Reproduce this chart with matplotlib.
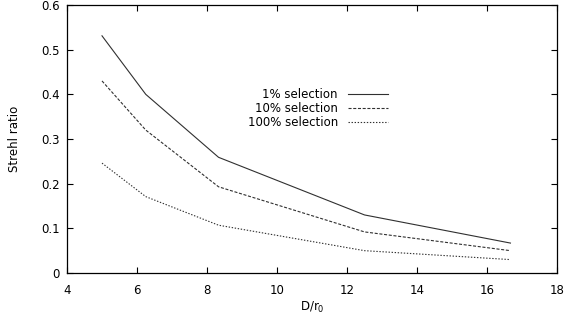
# plot.py - Strehl ratio vs D/r0 for three frame-selection levels
import matplotlib
matplotlib.use('Agg')
import matplotlib.pyplot as plt
from matplotlib.ticker import FormatStrFormatter

# D/r0 sample points
dOverR0 = [5.0, 6.25, 8.33, 12.5, 16.67]

# Strehl ratio per selection level
strehl1 = [0.531, 0.400, 0.259, 0.130, 0.067]
strehl10 = [0.430, 0.320, 0.193, 0.092, 0.050]
strehl100 = [0.246, 0.171, 0.107, 0.050, 0.030]

seriesLabels = ['1% selection', '10% selection', '100% selection']
xTicks = [4, 6, 8, 10, 12, 14, 16, 18]
yTicks = [0, 0.1, 0.2, 0.3, 0.4, 0.5, 0.6]

plt.rcParams['font.family'] = ['DejaVu Sans']
plt.rcParams['font.size'] = 8.5
plt.rcParams['lines.scale_dashes'] = False

fig = plt.figure(figsize=(5.65, 3.18), dpi=100)
ax = fig.add_axes([67 / 565, 45 / 318, 490 / 565, 268 / 318])

lineColor = '#303030'
ax.plot(dOverR0, strehl1, color=lineColor, lw=0.8, linestyle='-', label=seriesLabels[0])
ax.plot(dOverR0, strehl10, color=lineColor, lw=0.8, linestyle=(0, (2.2, 1.2)), label=seriesLabels[1])
ax.plot(dOverR0, strehl100, color=lineColor, lw=0.8, linestyle=(0, (1.0, 1.2)), label=seriesLabels[2])

ax.set_xlim(4, 18)
ax.set_ylim(0, 0.6)
ax.set_xticks(xTicks)
ax.set_yticks(yTicks)
ax.yaxis.set_major_formatter(FormatStrFormatter('%g'))
ax.tick_params(direction='in', length=4, width=0.8, top=True, right=True)
ax.tick_params(axis='x', pad=8)
ax.tick_params(axis='y', pad=5)

for spine in ax.spines.values():
    spine.set_linewidth(0.9)
    spine.set_color('black')

ax.set_xlabel('D/r$_0$', labelpad=2)
ax.set_ylabel('Strehl ratio', labelpad=15)

# gnuplot style key: text right-aligned, sample line after it
ax.legend(loc='upper right', bbox_to_anchor=(388 / 565, 1 - 88 / 318),
          bbox_transform=fig.transFigure, frameon=False, markerfirst=False,
          handlelength=3.4, handletextpad=0.85, labelspacing=0.08, borderpad=0,
          borderaxespad=0)

fig.savefig('out.png', dpi=100)
plt.close(fig)
